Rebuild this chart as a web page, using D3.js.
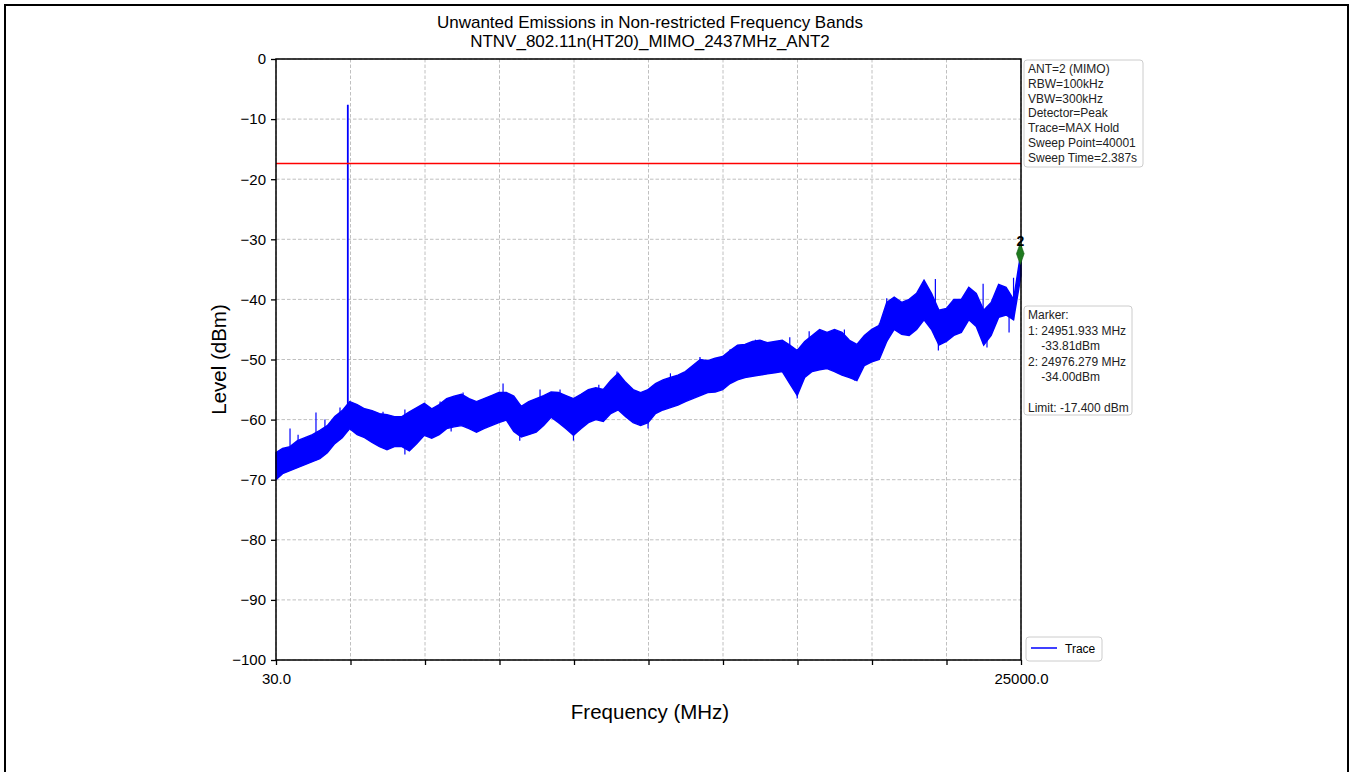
<!DOCTYPE html>
<html><head><meta charset="utf-8">
<script src="https://cdn.jsdelivr.net/npm/d3@7"></script>
<style>body{margin:0;background:#fff}svg{display:block}text{font-family:"Liberation Sans",Arial,sans-serif}</style>
</head><body>
<script>
// ---- data ----
const freqMHz = [30,250,500,750,1000,1250,1500,1750,2000,2250,2500,2750,3000,3250,3500,3750,4000,4250,4500,4750,
5000,5250,5500,5750,6000,6250,6500,6750,7000,7250,7500,7750,8000,8250,8500,8750,9000,9250,9500,9750,
10000,10250,10500,10750,11000,11250,11500,11750,12000,12250,12500,12750,13000,13250,13500,13750,14000,14250,14500,14750,
15000,15250,15500,15750,16000,16250,16500,16750,17000,17250,17500,17750,18000,18250,18500,18750,19000,19250,19500,19750,
20000,20250,20500,20750,21000,21250,21500,21750,22000,22250,22500,22750,23000,23250,23500,23750,24000,24250,24500,24750,25000];
const traceUpper = [-65.5,-64.8,-64.5,-63.5,-63,-62.5,-61.8,-61,-59.5,-58.5,-57,-57.5,-58.2,-58.5,-59,-59.2,-59.5,-59.5,-58.7,-58,
-57.3,-58.2,-57.5,-56.5,-56.1,-55.8,-56.5,-57,-56.5,-56,-55.5,-55.5,-56.1,-57.8,-57,-56.5,-56,-55.4,-55.5,-56,
-56.5,-55.8,-55,-54.7,-55,-53.5,-52.3,-53.8,-55,-55.5,-55,-54,-53.4,-53,-52.6,-52,-51,-50,-50.2,-49.8,
-49.5,-48.5,-47.6,-47.5,-47,-46.8,-47.2,-47,-46.8,-47.6,-48.5,-47,-46,-45,-45.5,-45,-45.5,-46.8,-47.5,-46,
-45,-44.3,-40.5,-39.6,-40.5,-40,-39,-36.8,-39,-41.8,-41.5,-40,-40,-38,-39,-41.8,-40.5,-37.5,-38,-40,-32];
const traceLower = [-70,-69,-68.5,-68,-67.5,-67,-66.5,-65.5,-64,-63,-61.5,-62.5,-63,-63.8,-64.5,-65,-64.5,-64.5,-65.2,-64,
-62.6,-63.1,-62.5,-61.5,-61.2,-61,-61.5,-62.1,-61.5,-61,-60.5,-60.1,-62,-62.9,-62.5,-62.1,-61,-59.6,-60.5,-61.5,
-62.6,-61.5,-60.5,-60,-60.3,-59,-58.4,-59.5,-60.5,-61,-60.5,-59,-58.4,-58,-57.6,-57,-56.5,-56,-55.5,-55.4,
-55,-54,-53.4,-53,-52.8,-52.6,-52.4,-52.2,-52,-54,-56,-53,-52,-51.7,-51.5,-52,-52.6,-53,-53.5,-51,
-50.4,-50,-47,-45,-45.8,-46,-45,-43.4,-45,-47.6,-47,-46,-45.5,-43.4,-44.5,-47.6,-46,-43,-42.6,-43.4,-36];
// narrow spikes poking out of the noise band (upward and downward)
const spikeUpMHz = [500,770,1370,1670,2175,2437,3617,4350,5530,6300,7640,8880,9550,10850,11460,13250,14240,15250,16100,17250,17900,19080,20250,20500,22130,23730,24750];
const spikeUpLevel = [-61.5,-62.5,-58.8,-60,-58,-7.6,-58.7,-58.3,-57,-55.5,-54,-55,-55,-54.2,-52,-52.3,-49.6,-48.3,-46.7,-46.3,-45.3,-45,-44,-39.8,-36.6,-37.4,-36.4];
const spikeDownMHz = [4350,5900,8200,10000,12500,17500,19420,22230,23860,24600];
const spikeDownLevel = [-65.8,-62,-63.5,-63.5,-61.5,-56.5,-53.5,-48.5,-48,-45.5];
const limitLevel = -17.4;
const markerMHz = [24976.279];
const markerLevel = [-32.4];
const markerLabels = ["2"];
const xTickValues = [30,2527,5024,7521,10018,12515,15012,17509,20006,22503,25000];
const xTickLabels = ["30.0","","","","","","","","","","25000.0"];
const yTickValues = [0,-10,-20,-30,-40,-50,-60,-70,-80,-90,-100];
const titleLines = ["Unwanted Emissions in Non-restricted Frequency Bands","NTNV_802.11n(HT20)_MIMO_2437MHz_ANT2"];
const infoLines = ["ANT=2 (MIMO)","RBW=100kHz","VBW=300kHz","Detector=Peak","Trace=MAX Hold","Sweep Point=40001","Sweep Time=2.387s"];
const markerLines = ["Marker:","1: 24951.933 MHz","    -33.81dBm","2: 24976.279 MHz","    -34.00dBm","","Limit: -17.400 dBm"];

// ---- drawing ----
const W=1351,H=772;
const svg=d3.select("body").append("svg").attr("width",W).attr("height",H);
svg.append("rect").attr("width",W).attr("height",H).attr("fill","#fff");
svg.append("rect").attr("x",5).attr("y",5).attr("width",1343).attr("height",800).attr("fill","none").attr("stroke","#000").attr("stroke-width",2);

const L=276,R=1021,T=59,B=660;
const x=d3.scaleLinear().domain([30,25000]).range([L,R]);
const y=d3.scaleLinear().domain([-100,0]).range([B,T]);

// grid
const g=svg.append("g");
g.selectAll(".gx").data(xTickValues).join("line").attr("x1",d=>x(d)).attr("x2",d=>x(d)).attr("y1",T).attr("y2",B)
 .attr("stroke","#b0b0b0").attr("stroke-width",0.8).attr("stroke-dasharray","3.5,2");
g.selectAll(".gy").data(yTickValues).join("line").attr("y1",d=>y(d)).attr("y2",d=>y(d)).attr("x1",L).attr("x2",R)
 .attr("stroke","#b0b0b0").attr("stroke-width",0.8).attr("stroke-dasharray","3.5,2");

// trace band
const pts=freqMHz.map((f,i)=>({f,u:traceUpper[i],l:traceLower[i]}));
const area=d3.area().x(d=>x(d.f)).y0(d=>y(d.l)).y1(d=>y(d.u));
svg.append("path").datum(pts).attr("d",area).attr("fill","#0000ff").attr("stroke","#0000ff").attr("stroke-width",1.4).attr("stroke-linejoin","miter");
// envelope lookup through d3 scales built from the read arrays
const upAt=d3.scaleLinear().domain(freqMHz).range(traceUpper);
const loAt=d3.scaleLinear().domain(freqMHz).range(traceLower);
svg.selectAll(".spu").data(spikeUpMHz).join("line").attr("x1",d=>x(d)).attr("x2",d=>x(d))
 .attr("y1",d=>y(loAt(d))).attr("y2",(d,i)=>y(spikeUpLevel[i])).attr("stroke","#0000ff").attr("stroke-width",(d,i)=>spikeUpLevel[i]>-20?1.8:1.2);
svg.selectAll(".spd").data(spikeDownMHz).join("line").attr("x1",d=>x(d)).attr("x2",d=>x(d))
 .attr("y1",d=>y(upAt(d))).attr("y2",(d,i)=>y(spikeDownLevel[i])).attr("stroke","#0000ff").attr("stroke-width",1.2);

// limit line
svg.append("line").attr("x1",L).attr("x2",R).attr("y1",y(limitLevel)).attr("y2",y(limitLevel)).attr("stroke","#ff0000").attr("stroke-width",1.5);

// spines
svg.append("rect").attr("x",L).attr("y",T).attr("width",R-L).attr("height",B-T).attr("fill","none").attr("stroke","#000").attr("stroke-width",1.5);

// markers
const sym=d3.symbol().type(d3.symbolDiamond).size(80);
svg.selectAll(".mk").data(markerMHz).join("path").attr("d",sym)
 .attr("transform",(d,i)=>`translate(${x(d)},${y(markerLevel[i])}) scale(0.8,1.3)`).attr("fill","#1f7a1f").attr("stroke","#156015").attr("stroke-width",0.6);
svg.selectAll(".mkl").data(markerMHz).join("text").attr("x",d=>x(d)).attr("y",(d,i)=>y(markerLevel[i])-8)
 .attr("text-anchor","middle").attr("font-size",14).attr("font-weight","bold").text((d,i)=>markerLabels[i]);

// axes
const xAxis=d3.axisBottom(x).tickValues(xTickValues).tickFormat((d,i)=>xTickLabels[i]).tickSize(5).tickPadding(8);
const xg=svg.append("g").attr("transform",`translate(0,${B})`).call(xAxis);
xg.select(".domain").remove();
xg.selectAll("line").attr("stroke","#000").attr("stroke-width",1.3);
xg.selectAll("text").attr("font-size",15).attr("fill","#000").attr("font-family","Liberation Sans, Arial, sans-serif");
const yAxis=d3.axisLeft(y).tickValues(yTickValues).tickFormat(d=>d<0?"\u2212"+Math.abs(d):String(d)).tickSize(5).tickPadding(5);
const yg=svg.append("g").attr("transform",`translate(${L},0)`).call(yAxis);
yg.select(".domain").remove();
yg.selectAll("line").attr("stroke","#000").attr("stroke-width",1.3);
yg.selectAll("text").attr("font-size",15).attr("fill","#000").attr("font-family","Liberation Sans, Arial, sans-serif");

// titles
svg.selectAll(".tt").data(titleLines).join("text").attr("x",650).attr("y",(d,i)=>28+i*18.5)
 .attr("text-anchor","middle").attr("font-size",17).text(d=>d);
svg.append("text").attr("x",650).attr("y",719).attr("text-anchor","middle").attr("font-size",20.5).text("Frequency (MHz)");
svg.append("text").attr("transform",`translate(226,${(T+B)/2}) rotate(-90)`).attr("text-anchor","middle").attr("font-size",20.5).text("Level (dBm)");

// info boxes
function box(lines,x0,y0,w,h,step){
  svg.append("rect").attr("x",x0).attr("y",y0).attr("width",w).attr("height",h).attr("rx",3)
   .attr("fill","#fff").attr("fill-opacity",0.8).attr("stroke","#cccccc").attr("stroke-width",1);
  svg.selectAll(null).data(lines).join("text").attr("x",x0+4).attr("y",(d,i)=>y0+13+i*step)
   .attr("font-size",12).attr("fill","#222").attr("xml:space","preserve").style("white-space","pre").text(d=>d);
}
box(infoLines,1024,60,119,107,14.75);
box(markerLines,1024,306,108,109,15.5);

// legend
svg.append("rect").attr("x",1026).attr("y",637).attr("width",76).attr("height",24).attr("rx",3).attr("fill","#fff").attr("stroke","#cccccc");
svg.append("line").attr("x1",1031).attr("x2",1057).attr("y1",648).attr("y2",648).attr("stroke","#0000ff").attr("stroke-width",1.5);
svg.append("text").attr("x",1065).attr("y",652.5).attr("font-size",12).text("Trace");
</script>
</body></html>
